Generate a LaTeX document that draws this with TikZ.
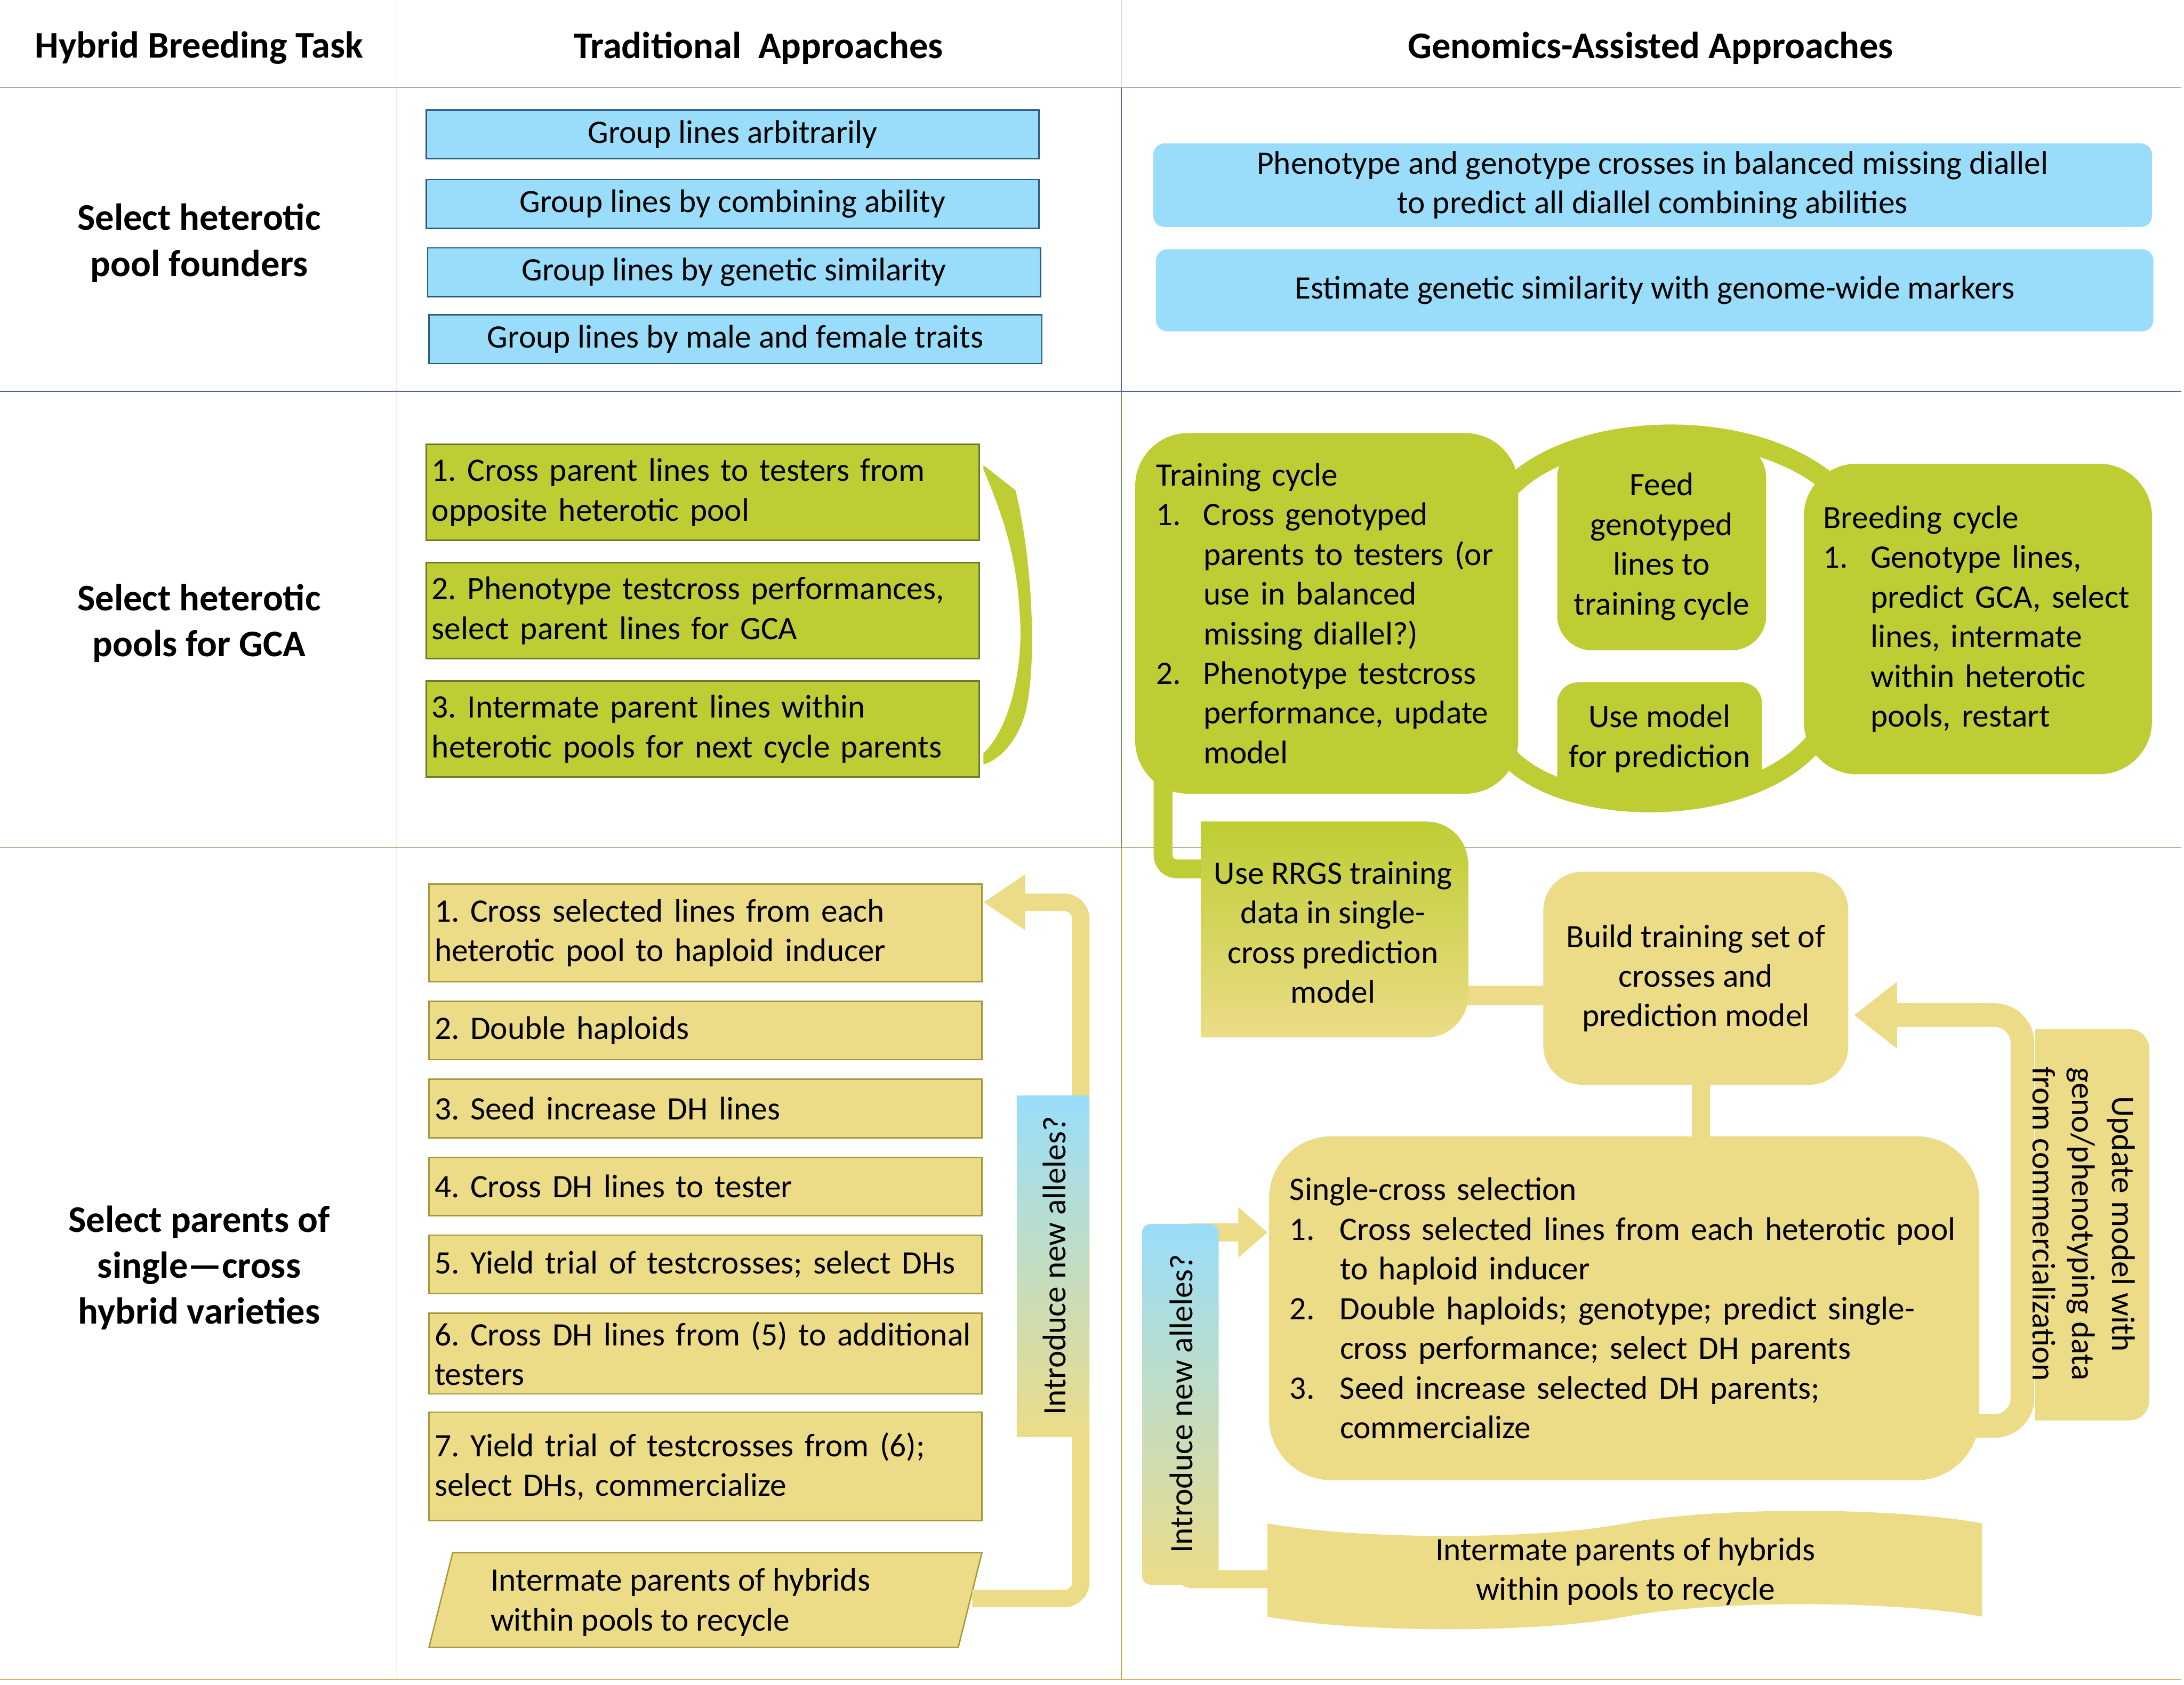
\documentclass[tikz,border=0pt]{standalone}
\usepackage{fontspec}
\setmainfont{Carlito}
\usetikzlibrary{arrows.meta}
\definecolor{lblue}{HTML}{99DDFB}
\definecolor{bdark}{HTML}{2F5D7C}
\definecolor{lgreen}{HTML}{BECD33}
\definecolor{gdark}{HTML}{6B7B23}
\definecolor{beige}{HTML}{ECDC88}
\definecolor{bedark}{HTML}{A8983A}
\definecolor{linegray}{HTML}{808080}
\definecolor{lineblue}{HTML}{5262A2}
\definecolor{linegreen}{HTML}{72905A}
\definecolor{linegold}{HTML}{C9A23E}
\definecolor{vgray}{HTML}{D8D8D8}
\newcommand{\xl}[1]{\mbox{#1}}
\newcommand{\nm}[1]{\makebox[34pt][l]{#1}}
\newcommand{\ind}{\hspace*{34pt}}
\begin{document}
\frenchspacing
\begin{tikzpicture}[x=1pt,y=-1pt,
  txt/.style={font=\frenchspacing\fontsize{23.5}{28.5}\selectfont},
  hdr/.style={font=\bfseries\fontsize{27}{33}\selectfont, align=center, inner sep=0pt},
  tbox/.style={txt, draw=bdark, line width=1pt, fill=lblue, minimum height=35pt, minimum width=440pt, inner sep=0pt, align=center},
  gbox/.style={txt, fill=lblue, rounded corners=8pt, inner sep=0pt, align=center},
  grbox/.style={txt, draw=gdark, line width=1pt, fill=lgreen, minimum height=69pt, text width=389pt, inner xsep=4pt, inner ysep=0pt, align=left},
  ybox/.style={txt, draw=bedark, line width=1pt, fill=beige, text width=389pt, inner xsep=4pt, inner ysep=0pt, align=left},
  gshape/.style={txt, fill=lgreen, inner sep=0pt},
  bshape/.style={txt, fill=beige, inner sep=0pt},
  gband/.style={draw=lgreen, line width=14pt},
  bband/.style={draw=beige, line width=13pt},
  plain/.style={txt, inner sep=0pt}
]
\useasboundingbox (0,0) rectangle (1568,1210);
% ---------- grid ----------
\draw[vgray, line width=0.5pt] (285,0) -- (285,63) (805,0) -- (805,63);
\draw[lineblue, line width=0.5pt] (285,63) -- (285,281) (805,63) -- (805,281);
\draw[linegreen, line width=0.5pt] (285,281) -- (285,608.5) (805,281) -- (805,608.5);
\draw[linegold, line width=0.5pt] (285,608.5) -- (285,1206) (805,608.5) -- (805,1206);
\draw[linegray, line width=0.7pt] (0,63) -- (1566,63);
\draw[lineblue, line width=0.6pt] (0,281) -- (1566,281);
\draw[linegreen, line width=0.6pt] (0,608.5) -- (1566,608.5);
\draw[linegold, line width=0.7pt] (0,1206) -- (1566,1206);
% ---------- headers ----------
\node[hdr] (h1) at (143,34.5) {Hybrid Breeding Task};
\node[hdr] (h2) at (544.5,34.5) {Traditional\ \ Approaches};
\node[hdr] (h3) at (1185,34.5) {Genomics-Assisted Approaches};
\node[hdr] (r1) at (143,174.5) {Select heterotic\\pool founders};
\node[hdr] (r2) at (143,447.5) {Select heterotic\\pools for GCA};
\node[hdr] (r3) at (143,910.5) {Select parents of\\single—cross\\hybrid varieties};
% ---------- row 1 ----------
\node[tbox] (t1) at (526,96.5) {Group lines arbitrarily};
\node[tbox] (t2) at (526,146.5) {Group lines by combining ability};
\node[tbox] (t3) at (527,195.5) {Group lines by genetic similarity};
\node[tbox] (t4) at (528,243.5) {Group lines by male and female traits};
\node[gbox, minimum width=717pt, minimum height=60pt] (ga) at (1186.5,133)
  {Phenotype and genotype crosses in balanced missing diallel\\to predict all diallel combining abilities};
\node[gbox, minimum width=716pt, minimum height=59pt] (gb) at (1188,208.5)
  {Estimate genetic similarity with genome-wide markers};
% ---------- row 2 traditional ----------
\node[grbox] (g1) at (504.5,353.5) {\xl{1. Cross parent lines to testers from}\\\xl{opposite heterotic pool}};
\node[grbox] (g2) at (504.5,438.5) {\xl{2. Phenotype testcross performances,}\\\xl{select parent lines for GCA}};
\node[grbox] (g3) at (504.5,523.5) {\xl{3. Intermate parent lines within}\\\xl{heterotic pools for next cycle parents}};
\fill[lgreen] (706,334) -- (729,352) .. controls (740,395) and (745,470) .. (737,508)
  .. controls (733,528) and (720,545) .. (706,549) -- (706,541)
  .. controls (728,520) and (735,470) .. (732,440) .. controls (730,400) and (720,370) .. (706,337) -- cycle;
% ---------- row 2 genomics ----------
\coordinate (arcA1) at (1080,355);
\coordinate (arcA2) at (1322,355);
\coordinate (arcB1) at (1080,540);
\coordinate (arcB2) at (1305,530);
\draw[gband] (arcA1) .. controls (1125,300) and (1265,295) .. (arcA2);
\draw[gband] (arcB1) .. controls (1120,590) and (1260,590) .. (arcB2);
\coordinate (trdown) at (835,555);
\coordinate (rrgsin) at (868,624);
\draw[gband, line width=13.5pt, rounded corners=10pt] (trdown) -- (835,624) -- (rrgsin);
\node[gshape, rounded corners=38pt, text width=245pt, inner xsep=15pt, minimum height=259pt, align=left] (train) at (952.5,440.5)
  {Training cycle\\
   \nm{1.}\xl{Cross genotyped}\\
   \ind\xl{parents to testers (or}\\
   \ind\xl{use in balanced}\\
   \ind\xl{missing diallel?)}\\
   \nm{2.}\xl{Phenotype testcross}\\
   \ind\xl{performance, update}\\
   \ind model};
\node[gshape, rounded corners=25pt, minimum width=150pt, minimum height=149pt, align=center] (feed) at (1193,392.5)
  {Feed\\genotyped\\lines to\\training cycle};
\node[gshape, rounded corners=15pt, minimum width=147pt, minimum height=81pt, align=center] (usemodel) at (1191.5,530.5)
  {Use model\\for prediction};
\node[gshape, rounded corners=38pt, text width=222pt, inner xsep=14pt, minimum height=223pt, align=left] (breed) at (1420,444.5)
  {Breeding cycle\\
   \nm{1.}\xl{Genotype lines,}\\
   \ind\xl{predict GCA, select}\\
   \ind\xl{lines, intermate}\\
   \ind\xl{within heterotic}\\
   \ind\xl{pools, restart}};
% ---------- row 3 genomics ----------
\coordinate (rrgsout) at (1050,715);
\coordinate (buildin) at (1112,715);
\draw[bband, line width=14pt] (rrgsout) -- (buildin);
\coordinate (buildout) at (1221,775);
\coordinate (singin) at (1221,821);
\draw[bband, line width=13pt] (buildout) -- (singin);
\path[top color=lgreen, middle color=lgreen!55!beige, bottom color=beige]
  (862,590) -- (1024,590) .. controls (1040.6,590) and (1054,603.4) .. (1054,620)
  -- (1054,715) .. controls (1054,731.6) and (1040.6,745) .. (1024,745) -- (862,745) -- cycle;
\node[plain, align=center] (rrgs) at (957,669.5) {Use RRGS training\\data in single-\\cross prediction\\model};
\node[bshape, rounded corners=28pt, minimum width=219pt, minimum height=153pt, align=center] (build) at (1217.5,702.5)
  {Build training set of\\crosses and\\prediction model};
\coordinate (singout) at (1415,1024);
\coordinate (buildarr) at (1331,729);
\draw[bband, line width=17pt, rounded corners=20pt, -{Triangle[length=31pt,width=46pt]}]
  (singout) -- (1452,1024) -- (1452,729) -- (buildarr);
\coordinate (tapeout) at (915,1134);
\coordinate (singarr) at (910,885);
\draw[bband, line width=13pt, rounded corners=8pt, -{Triangle[length=21pt,width=35pt]}]
  (tapeout) -- (848,1134) -- (848,885) -- (singarr);
\node[bshape, rounded corners=45pt, text width=480pt, inner xsep=15pt, minimum height=247pt, align=left] (single) at (1166,939.5)
  {Single-cross selection\\
   \makebox[36pt][l]{1.}\xl{Cross selected lines from each heterotic pool}\\
   \hspace*{36pt}\xl{to haploid inducer}\\
   \makebox[36pt][l]{2.}\xl{Double haploids; genotype; predict single-}\\
   \hspace*{36pt}\xl{cross performance; select DH parents}\\
   \makebox[36pt][l]{3.}\xl{Seed increase selected DH parents;}\\
   \hspace*{36pt}commercialize};
\path[fill=beige] (1461,739) -- (1529,739) .. controls (1536.7,739) and (1543,745.3) .. (1543,753)
  -- (1543,1006) .. controls (1543,1013.7) and (1536.7,1020) .. (1529,1020) -- (1461,1020) -- cycle;
\node[plain, rotate=-90, align=center] (update) at (1496,879)
  {Update model with\\geno/phenotyping data\\from commercialization};
\path[top color=lblue, bottom color=beige, rounded corners=6pt] (820,879) rectangle (875,1138);
\node[plain, rotate=90] (intro2) at (848,1008) {Introduce new alleles?};
\path[fill=beige] (910,1094) .. controls (975,1106) and (1105,1106) .. (1167,1094)
  .. controls (1230,1082) and (1360,1082) .. (1423,1094) -- (1423,1161)
  .. controls (1360,1149) and (1230,1149) .. (1167,1161)
  .. controls (1105,1173) and (975,1173) .. (910,1161) -- cycle;
\node[plain, align=center] (tape) at (1167,1128.5) {Intermate parents of hybrids\\within pools to recycle};
% ---------- row 3 traditional ----------
\node[ybox, minimum height=70pt] (y1) at (506.5,670) {\xl{1. Cross selected lines from each}\\\xl{heterotic pool to haploid inducer}};
\node[ybox, minimum height=42pt] (y2) at (506.5,740) {2. Double haploids};
\node[ybox, minimum height=42pt] (y3) at (506.5,796) {3. Seed increase DH lines};
\node[ybox, minimum height=42pt] (y4) at (506.5,852) {4. Cross DH lines to tester};
\node[ybox, minimum height=42pt] (y5) at (506.5,908) {\xl{5. Yield trial of testcrosses; select DHs}};
\node[ybox, minimum height=58pt] (y6) at (506.5,972) {\xl{6. Cross DH lines from (5) to additional}\\testers};
\node[ybox, minimum height=78pt] (y7) at (506.5,1053) {\xl{7. Yield trial of testcrosses from (6);}\\\xl{select DHs, commercialize}};
\draw[bedark, line width=1pt, fill=beige] (325,1115) -- (705,1115) -- (688,1183) -- (308,1183) -- cycle;
\node[plain, anchor=west, align=left] (para) at (352,1150.5) {Intermate parents of hybrids\\within pools to recycle};
\coordinate (paraout) at (698,1148);
\coordinate (y1arr) at (706,648);
\draw[bband, line width=12.5pt, rounded corners=12pt, -{Triangle[length=30pt,width=38pt]}]
  (paraout) -- (776,1148) -- (776,648) -- (y1arr);
\path[top color=lblue, bottom color=beige] (730,787) rectangle (782,1032);
\node[plain, rotate=90] (intro1) at (757,909) {Introduce new alleles?};
\end{tikzpicture}
\end{document}
